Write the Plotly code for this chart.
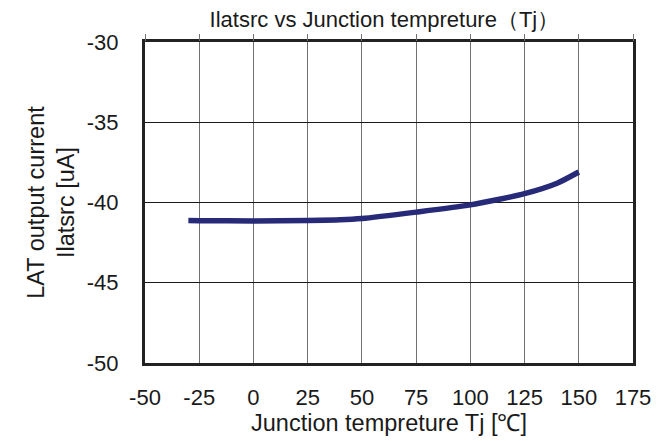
import plotly.graph_objects as go

# Ilatsrc vs Tj
tj_c = [-30, -25, 0, 25, 40, 50, 75, 100, 125, 140, 150]
ilatsrc_ua = [-41.12, -41.13, -41.15, -41.12, -41.08, -41.0, -40.6, -40.15, -39.45, -38.8, -38.1]

x_ticks = [-50, -25, 0, 25, 50, 75, 100, 125, 150, 175]
y_ticks = [-50, -45, -40, -35, -30]

FONT = "Liberation Sans, Arial, sans-serif"

fig = go.Figure()
fig.add_trace(go.Scatter(
    x=tj_c, y=ilatsrc_ua, mode="lines",
    line=dict(color="#262a78", width=5.5, shape="spline", smoothing=0.6),
    showlegend=False, hoverinfo="skip",
))
# invisible trace on top axis to get the small tick marks above the frame
fig.add_trace(go.Scatter(x=[-50, 175], y=[-50, -50], xaxis="x2", mode="markers",
                         marker=dict(opacity=0), showlegend=False, hoverinfo="skip"))

# margins account for the page's 8px body offset
fig.update_layout(
    width=671, height=441,
    margin=dict(l=137, r=46, t=34, b=86, autoexpand=False),
    paper_bgcolor="white", plot_bgcolor="white",
    font=dict(family=FONT, size=22, color="#1a1a1a"),
    title=dict(text="Ilatsrc vs Junction tempreture（Tj）", x=0.561, xanchor="center",
               y=0.975, yanchor="middle", font=dict(size=22, color="#1a1a1a")),
    xaxis=dict(
        range=[-50, 175], tickvals=x_ticks, ticktext=[str(v) for v in x_ticks],
        showgrid=True, gridcolor="#707070", gridwidth=1,
        showline=True, linecolor="#222222", linewidth=3, mirror=True,
        ticks="", zeroline=False, ticklabelstandoff=13, automargin=False,
        title=dict(text="Junction tempreture Tj [℃]", standoff=0, font=dict(size=23.5)),
    ),
    xaxis2=dict(
        range=[-50, 175], tickvals=x_ticks, overlaying="x", side="top", anchor="y",
        showticklabels=False, ticks="outside", ticklen=7, tickcolor="#707070",
        showgrid=False, zeroline=False, automargin=False,
    ),
    yaxis=dict(
        range=[-50, -30], tickvals=y_ticks, ticktext=[str(v) for v in y_ticks],
        showgrid=True, gridcolor="#1a1a1a", gridwidth=1,
        showline=True, linecolor="#222222", linewidth=3, mirror=True,
        ticks="", zeroline=False, ticklabelstandoff=19, automargin=False,
        title=dict(text="LAT output current<br>Ilatsrc [uA]", standoff=6, font=dict(size=23.5)),
    ),
)

fig.write_html("out.html")
